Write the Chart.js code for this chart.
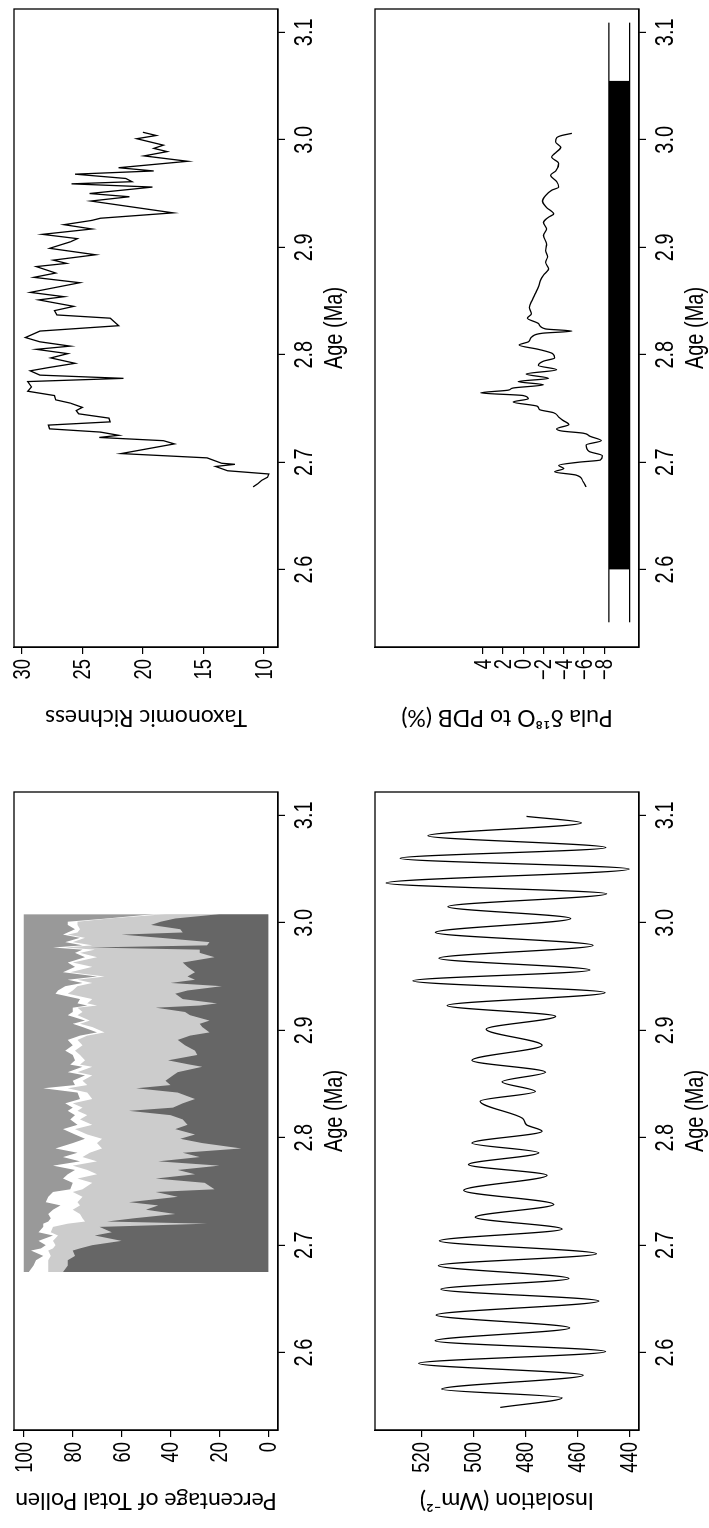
<!DOCTYPE html>
<html>
<head>
<meta charset="utf-8">
<script src="https://cdn.jsdelivr.net/npm/chart.js@4.4.1/dist/chart.umd.min.js"></script>
<style>
  html, body { margin: 0; padding: 0; background: #fff; overflow: hidden; }
  /* the figure is laid out landscape and turned a quarter turn, like the original scan */
  #page { position: absolute; left: 0; top: 0; width: 1528px; height: 709px;
          transform-origin: 0 0; transform: translate(0, 1528px) rotate(-90deg); }
  #page canvas { position: absolute; }
</style>
</head>
<body>
<div id="page">
  <canvas id="pollen" width="748" height="344" style="left:-2px;top:4px"></canvas>
  <canvas id="taxa" width="748" height="344" style="left:781px;top:4px"></canvas>
  <canvas id="insol" width="748" height="344" style="left:-2px;top:365px"></canvas>
  <canvas id="pula" width="748" height="344" style="left:781px;top:365px"></canvas>
</div>
<script>
// Age axis shared by all four panels
const ageTicks = [2.6, 2.7, 2.8, 2.9, 3.0, 3.1];
const ageRange = [2.528, 3.1217];

// Pollen percentages (cumulative tops of each band)
const pollenAge = [2.675, 2.681, 2.686, 2.690, 2.695, 2.697, 2.700, 2.704, 2.709, 2.712,
  2.717, 2.720, 2.722, 2.725, 2.729, 2.733, 2.737, 2.740, 2.745, 2.7495,
  2.752, 2.758, 2.762, 2.766, 2.770, 2.774, 2.778, 2.782, 2.786, 2.790,
  2.795, 2.799, 2.803, 2.808, 2.812, 2.817, 2.821, 2.825, 2.828, 2.832,
  2.836, 2.842, 2.846, 2.849, 2.853, 2.858, 2.861, 2.866, 2.868, 2.872,
  2.877, 2.881, 2.886, 2.891, 2.895, 2.898, 2.903, 2.906, 2.909, 2.914,
  2.917, 2.921, 2.923, 2.925, 2.929, 2.934, 2.937, 2.941, 2.944, 2.947,
  2.950, 2.954, 2.959, 2.963, 2.968, 2.972, 2.975, 2.977, 2.979, 2.982,
  2.986, 2.989, 2.991, 2.994, 2.998, 3.001, 3.004, 3.008];
const darkTop = [84, 82, 82, 79, 80, 77, 72, 60, 71, 64,
  69, 25, 66, 55, 38, 50, 45, 57, 37, 46,
  22, 26, 46, 30, 37, 20, 45, 28, 35, 11,
  27, 36, 30, 38, 33, 35, 40, 57, 39, 35,
  30, 37, 54, 40, 42, 39, 37, 27, 32, 41,
  29, 30, 34, 37, 32, 24, 27, 28, 24, 32,
  34, 46, 28, 21, 35, 38, 33, 19, 40, 30,
  33, 30, 33, 35, 22, 28, 28, 73, 25, 24,
  44, 60, 35, 36, 48, 44, 38, 20];
const lightTop = [90, 90, 90, 89, 90, 88, 87, 88, 86, 89,
  88, 82, 75, 76, 77, 80, 77, 78, 76, 80,
  76, 72, 78, 70, 74, 80, 70, 76, 73, 68,
  70, 68, 74, 79, 72, 77, 74, 78, 76, 80,
  72, 74, 82, 74, 76, 72, 78, 72, 77, 75,
  77, 79, 76, 78, 74, 67, 72, 77, 73, 78,
  76, 78, 70, 74, 72, 82, 80, 78, 72, 78,
  67, 81, 72, 80, 70, 77, 71, 83, 72, 80,
  75, 82, 78, 77, 78, 78, 65, 42];
const whiteTop = [98, 96, 95, 92, 97, 93, 91, 94, 88, 94,
  92, 92, 90, 89, 90, 88, 85, 91, 90, 88,
  81, 80, 84, 82, 79, 88, 77, 84, 78, 87,
  80, 75, 79, 84, 78, 81, 79, 82, 80, 83,
  77, 78, 92, 79, 80, 75, 82, 76, 81, 79,
  80, 83, 80, 82, 77, 70, 76, 80, 75, 82,
  80, 80, 74, 78, 77, 87, 86, 83, 76, 82,
  70, 84, 79, 82, 75, 79, 76, 88, 76, 83,
  77, 84, 82, 79, 82, 82, 66, 47];
const pollenTicks = [0, 20, 40, 60, 80, 100];

// Taxonomic richness
const richAge = [2.677, 2.680, 2.683, 2.686, 2.689, 2.692, 2.696, 2.698, 2.699, 2.704,
  2.708, 2.717, 2.720, 2.723, 2.725, 2.728, 2.731, 2.7345, 2.7375, 2.741,
  2.745, 2.748, 2.751, 2.755, 2.758, 2.762, 2.766, 2.770, 2.775, 2.778,
  2.781, 2.785, 2.788, 2.792, 2.797, 2.801, 2.805, 2.808, 2.812, 2.816,
  2.822, 2.827, 2.834, 2.837, 2.841, 2.845, 2.851, 2.854, 2.858, 2.867,
  2.872, 2.876, 2.882, 2.885, 2.888, 2.893, 2.899, 2.905, 2.908, 2.912,
  2.917, 2.921, 2.925, 2.927, 2.932, 2.943, 2.947, 2.950, 2.956, 2.959,
  2.961, 2.964, 2.968, 2.971, 2.974, 2.980, 2.985, 2.989, 2.992, 2.995,
  3.001, 3.004, 3.007];
const richness = [10.9, 10.5, 10.2, 9.7, 9.6, 13.0, 14.0, 12.4, 13.5, 14.7,
  21.8, 17.4, 18.3, 23.6, 22.0, 23.5, 27.7, 27.8, 22.7, 22.8,
  25.3, 25.5, 25.0, 26.0, 27.2, 27.3, 29.5, 29.2, 29.5, 21.6,
  28.5, 29.3, 27.8, 25.6, 27.6, 26.2, 28.8, 26.0, 28.5, 29.7,
  28.5, 22.0, 22.7, 27.1, 27.3, 25.7, 28.6, 26.5, 29.3, 25.2,
  29.0, 27.2, 28.8, 26.3, 27.4, 23.9, 27.7, 26.0, 25.4, 28.3,
  24.2, 26.5, 24.2, 23.5, 17.5, 24.3, 21.1, 24.4, 19.2, 25.9,
  20.9, 21.4, 25.6, 19.1, 22.0, 16.3, 19.9, 18.0, 19.1, 18.3,
  20.5, 18.9, 20.0];
const richTicks = [10, 15, 20, 25, 30];

// Insolation
const insolAge = [2.549, 2.558, 2.566, 2.579, 2.590, 2.601, 2.611, 2.623, 2.635, 2.648,
  2.659, 2.669, 2.681, 2.692, 2.704, 2.715, 2.726, 2.738, 2.751, 2.765,
  2.775, 2.786, 2.795, 2.806, 2.812, 2.818, 2.834, 2.843, 2.852, 2.861,
  2.872, 2.886, 2.901, 2.913, 2.923, 2.935, 2.946, 2.956, 2.967, 2.979,
  2.991, 3.004, 3.015, 3.027, 3.037, 3.050, 3.060, 3.070, 3.081, 3.093,
  3.099];
const insolation = [489.6, 465.8, 512.1, 457.7, 521.0, 449.1, 514.6, 462.9, 514.2, 451.7,
  512.4, 463.2, 513.4, 452.6, 513.0, 465.8, 499.2, 469.0, 503.7, 471.6,
  501.8, 474.8, 500.5, 473.5, 479.5, 481.0, 497.3, 476.1, 488.9, 472.2,
  500.5, 473.5, 495.0, 468.3, 510.0, 449.3, 523.2, 455.1, 513.2, 453.9,
  514.5, 462.5, 509.7, 448.7, 533.5, 440.0, 528.1, 449.0, 517.4, 458.4,
  479.5];
const insolTicks = [440, 460, 480, 500, 520];

// Pula d18O
const pulaAge = [2.677, 2.682, 2.688, 2.691, 2.694, 2.697, 2.700, 2.702, 2.706, 2.710,
  2.716, 2.720, 2.724, 2.727, 2.729, 2.731, 2.735, 2.739, 2.742, 2.746,
  2.749, 2.752, 2.756, 2.759, 2.762, 2.7645, 2.767, 2.769, 2.772, 2.775,
  2.778, 2.782, 2.786, 2.790, 2.794, 2.797, 2.801, 2.805, 2.809, 2.812,
  2.817, 2.820, 2.822, 2.824, 2.829, 2.834, 2.838, 2.844, 2.851, 2.857,
  2.863, 2.869, 2.874, 2.880, 2.886, 2.891, 2.897, 2.903, 2.911, 2.917,
  2.923, 2.928, 2.931, 2.937, 2.943, 2.948, 2.953, 2.956, 2.961, 2.967,
  2.971, 2.978, 2.984, 2.988, 2.993, 2.998, 3.002, 3.004, 3.006];
const pulaD18O = [-6.2, -5.9, -5.2, -3.1, -4.0, -3.5, -5.5, -7.6, -7.8, -6.5,
  -6.2, -7.7, -6.6, -5.9, -3.8, -3.3, -4.5, -3.9, -3.5, -3.0,
  -1.6, -1.4, 1.0, -0.5, 0.0, 4.2, 1.5, 1.0, -2.0, 0.5,
  -2.5, -0.3, -3.3, -1.5, -2.0, -3.1, -2.9, -1.5, 0.4, -0.5,
  -0.9, -1.9, -4.8, -2.2, -1.5, -0.4, -0.8, -0.6, -0.9, -1.2,
  -1.5, -1.7, -2.0, -2.5, -2.2, -2.4, -2.2, -2.3, -2.0, -2.3,
  -2.0, -2.5, -3.0, -2.3, -1.9, -2.2, -2.8, -3.5, -3.3, -2.7,
  -3.2, -3.5, -2.8, -3.2, -3.7, -3.2, -3.3, -3.8, -4.8];
const pulaTicks = [-8, -6, -4, -2, 0, 2, 4];
const pulaRange = [-11.42, 14.62];
// time bar under the Pula record
const pulaBarSpan = [2.551, 3.109];
const pulaBarFill = [2.6, 3.055];
const pulaBarEdges = [-8.45, -10.5];

const LABEL = '"Liberation Sans", Arial, sans-serif';
const TITLE = 'Lato, "Liberation Sans", sans-serif';
const SQUASH = 0.8;   // the scan uses a condensed face for numbers and "Age (Ma)"

const pts = (xs, ys) => xs.map((x, i) => ({ x: x, y: ys[i] }));
const plain = v => String(v);
const minus = v => (v < 0 ? '\u2212' + Math.abs(v) : String(v));

function squashed(ctx, text, x, y, align) {
  ctx.save();
  ctx.translate(x, y);
  ctx.scale(SQUASH, 1);
  ctx.textAlign = align;
  ctx.textBaseline = 'alphabetic';
  ctx.fillText(text, 0, 0);
  ctx.restore();
}

// plot box, condensed tick labels and the age title
function framePlugin(fmt) {
  return {
    id: 'frame',
    afterDraw(chart) {
      const { ctx, chartArea: a, scales } = chart;
      ctx.save();
      ctx.strokeStyle = '#000';
      ctx.lineWidth = 1.3;
      ctx.strokeRect(a.left, a.top, a.right - a.left, a.bottom - a.top);
      ctx.fillStyle = '#000';
      ctx.font = '25px ' + LABEL;
      scales.x.ticks.forEach(t => {
        squashed(ctx, t.value.toFixed(1), scales.x.getPixelForValue(t.value), a.bottom + 34, 'center');
      });
      squashed(ctx, 'Age (Ma)', (a.left + a.right) / 2, a.bottom + 64, 'center');
      ctx.font = '23px ' + LABEL;
      scales.y.ticks.forEach(t => {
        squashed(ctx, fmt(t.value), a.left - 12, scales.y.getPixelForValue(t.value) + 8, 'right');
      });
      ctx.restore();
    }
  };
}

function panel(id, datasets, y) {
  return new Chart(document.getElementById(id), {
    type: 'line',
    data: { datasets: datasets },
    options: {
      responsive: false,
      animation: false,
      layout: { padding: { left: 0, right: 10, top: 10, bottom: 0 } },
      elements: { point: { radius: 0 } },
      plugins: { legend: { display: false }, tooltip: { enabled: false } },
      scales: {
        x: {
          type: 'linear', min: ageRange[0], max: ageRange[1],
          afterFit: s => { s.height = 70; },
          afterBuildTicks: s => { s.ticks = ageTicks.map(v => ({ value: v })); },
          ticks: { display: false },
          grid: { drawOnChartArea: false, tickLength: 7, color: '#000', lineWidth: 1.2 },
          border: { color: '#000', width: 1.3 },
          title: { display: false }
        },
        y: {
          type: 'linear', min: y.min, max: y.max,
          afterFit: s => { s.width = 100; },
          afterBuildTicks: s => { s.ticks = y.ticks.map(v => ({ value: v })); },
          ticks: { display: false },
          grid: { drawOnChartArea: false, tickLength: 7, color: '#000', lineWidth: 1.2 },
          border: { color: '#000', width: 1.3 },
          title: { display: true, text: y.title, color: '#000',
                   font: { family: TITLE, size: 23, lineHeight: 1.0 }, padding: { top: 18, bottom: 0 } }
        }
      }
    },
    plugins: [framePlugin(y.fmt || plain)]
  });
}

// Pollen: bands filled to the origin, drawn largest first
const hidden = 'rgba(0,0,0,0)';
panel('pollen', [
  { data: pts(pollenAge, darkTop), fill: 'origin', backgroundColor: '#666666', borderColor: hidden, tension: 0 },
  { data: pts(pollenAge, lightTop), fill: 'origin', backgroundColor: '#cccccc', borderColor: hidden, tension: 0 },
  { data: pts(pollenAge, whiteTop), fill: 'origin', backgroundColor: '#ffffff', borderColor: hidden, tension: 0 },
  { data: pts(pollenAge, pollenAge.map(() => 100)), fill: 'origin', backgroundColor: '#999999', borderColor: hidden, tension: 0 }
], { min: -4, max: 104, ticks: pollenTicks, title: 'Percentage of Total Pollen' });

panel('taxa', [
  { data: pts(richAge, richness), borderColor: '#000', borderWidth: 1.3, fill: false, tension: 0 }
], { min: 8.84, max: 30.64, ticks: richTicks, title: 'Taxonomic Richness' });

panel('insol', [
  { data: pts(insolAge, insolation), borderColor: '#000', borderWidth: 1.3, fill: false,
    cubicInterpolationMode: 'monotone' }
], { min: 436.24, max: 537.76, ticks: insolTicks, title: 'Insolation (Wm\u207B\u00B2)' });

panel('pula', [
  { data: pts(pulaAge, pulaD18O), borderColor: '#000', borderWidth: 1.3, fill: false,
    cubicInterpolationMode: 'monotone' },
  { data: pts(pulaBarFill, pulaBarFill.map(() => pulaBarEdges[0])), borderColor: hidden,
    backgroundColor: '#000', fill: { value: pulaBarEdges[1] } },
  { data: pts(pulaBarSpan, pulaBarSpan.map(() => pulaBarEdges[0])), borderColor: '#000', borderWidth: 1.3, fill: false },
  { data: pts(pulaBarSpan, pulaBarSpan.map(() => pulaBarEdges[1])), borderColor: '#000', borderWidth: 1.3, fill: false }
], { min: pulaRange[0], max: pulaRange[1], ticks: pulaTicks, fmt: minus, title: 'Pula \u03B4\u00B9\u2078O to PDB (%)' });
</script>
</body>
</html>
